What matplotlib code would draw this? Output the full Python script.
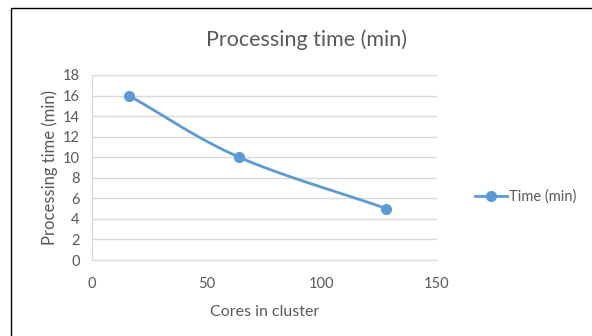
import matplotlib
matplotlib.use("Agg")
import matplotlib.pyplot as plt
import numpy as np
from matplotlib.patches import Rectangle

# Data
cores = [16, 64, 128]
minutes = [16, 10, 5]
x_ticks = [0, 50, 100, 150]
y_ticks = [0, 2, 4, 6, 8, 10, 12, 14, 16, 18]

BLUE = "#5B9BD5"
GREY = "#595959"


def smooth(xs, ys, n=40):
    # Catmull-Rom style smoothing, like Excel's "smoothed line"
    xs = np.asarray(xs, float)
    ys = np.asarray(ys, float)
    px = np.concatenate([[2 * xs[0] - xs[1]], xs, [2 * xs[-1] - xs[-2]]])
    py = np.concatenate([[2 * ys[0] - ys[1]], ys, [2 * ys[-1] - ys[-2]]])
    outx, outy = [], []
    for i in range(1, len(px) - 2):
        t = np.linspace(0, 1, n)
        for p, out in ((px, outx), (py, outy)):
            p0, p1, p2, p3 = p[i - 1], p[i], p[i + 1], p[i + 2]
            out.extend(0.5 * ((2 * p1) + (-p0 + p2) * t
                              + (2 * p0 - 5 * p1 + 4 * p2 - p3) * t ** 2
                              + (-p0 + 3 * p1 - 3 * p2 + p3) * t ** 3))
    return outx, outy


plt.rcParams['font.family'] = ['Lato', 'DejaVu Sans']

fig = plt.figure(figsize=(5.92, 3.36), dpi=100)
fig.patches.append(Rectangle((11 / 592, -0.01), 0.99, (336 - 8) / 336 + 0.01,
                             transform=fig.transFigure, fill=False,
                             edgecolor="#000000", linewidth=1.0))

ax = fig.add_axes([92 / 592, 76 / 336, 345 / 592, 185 / 336])

sx, sy = smooth(cores, minutes)
ax.plot(sx, sy, color=BLUE, linewidth=2)
ax.plot(cores, minutes, linestyle="none", marker="o", markersize=7, color=BLUE)
# proxy for legend
ax.plot([], [], color=BLUE, linewidth=2, marker="o", markersize=7, label="Time (min)")

ax.set_xlim(0, 150)
ax.set_ylim(0, 18)
ax.set_xticks(x_ticks)
ax.set_yticks(y_ticks)
ax.grid(axis="y", color="#D9D9D9", linewidth=1)
ax.set_axisbelow(True)
for s in ("top", "right"):
    ax.spines[s].set_visible(False)
for s in ("left", "bottom"):
    ax.spines[s].set_color("#D9D9D9")
ax.tick_params(length=0, labelsize=10.5, labelcolor=GREY, pad=9)
ax.tick_params(axis="x", pad=12)

ax.set_xlabel("Cores in cluster", fontsize=11.5, color=GREY, labelpad=10)
ax.set_ylabel("Processing time (min)", fontsize=12, color=GREY, labelpad=3)

fig.text(307 / 592, 1 - 40 / 336, "Processing time (min)", ha="center", va="center",
         fontsize=15.5, color=GREY)

handles, labels = ax.get_legend_handles_labels()
fig.legend(handles[-1:], labels[-1:], loc="center left",
           bbox_to_anchor=(462 / 592, 1 - 197 / 336), frameon=False,
           fontsize=10.5, labelcolor=GREY, handlelength=2.2, handletextpad=0.1)

fig.savefig("out.png", dpi=100)
